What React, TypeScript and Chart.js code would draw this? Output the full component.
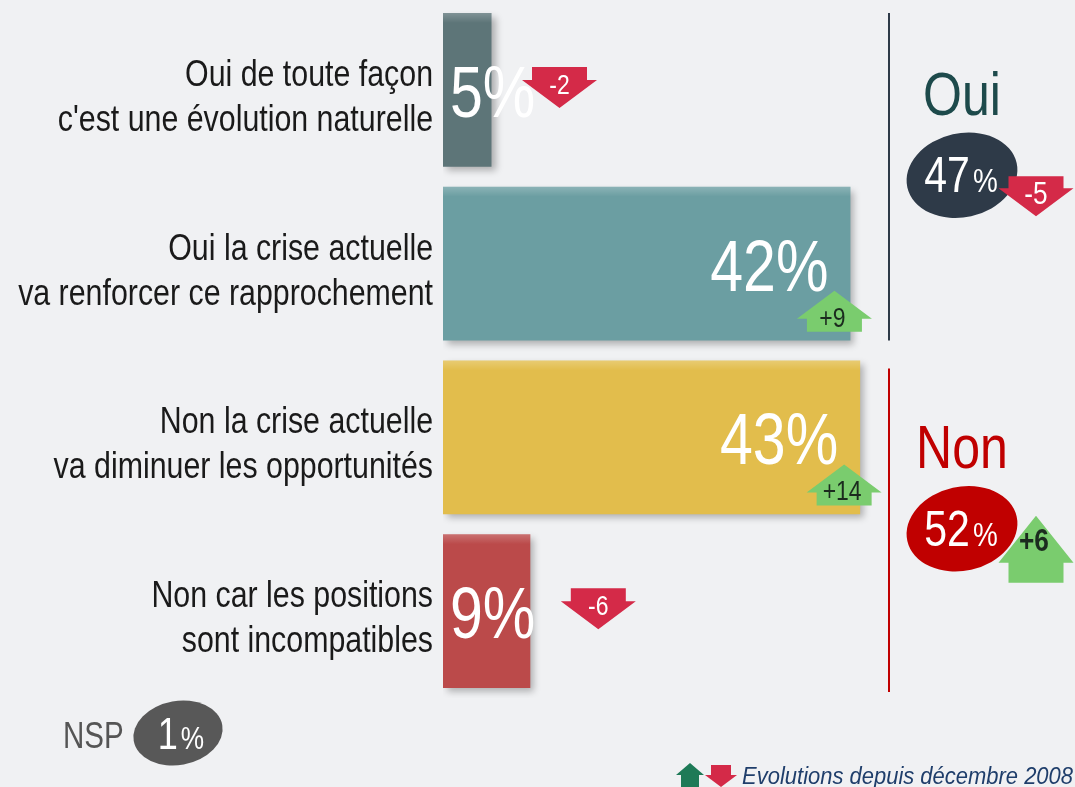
import React, { useEffect, useRef } from "react";
import { Chart, registerables } from "chart.js";

Chart.register(...registerables);

const categories: string[][] = [
  ["Oui de toute façon", "c'est une évolution naturelle"],
  ["Oui la crise actuelle", "va renforcer ce rapprochement"],
  ["Non la crise actuelle", "va diminuer les opportunités"],
  ["Non car les positions", "sont incompatibles"],
];
const values = [5, 42, 43, 9];
const evolutions = [-2, 9, 14, -6];
const barColors = ["#5d7578", "#6b9ea2", "#e2bd4c", "#bb4a4a"];

const groupLabels = ["Oui", "Non"];
const groupValues = [47, 52];
const groupEvolutions = [-5, 6];
const groupColors = ["#2e3a48", "#c00000"];
const groupLabelColors = ["#1d4a4b", "#c00000"];

const nspLabel = "NSP";
const nspValue = 1;
const footnote = "Evolutions depuis décembre 2008";

const FONT = "'Liberation Sans', Arial, sans-serif";
const NARROW = 0.82;
const UP = "#7acc6e";
const DOWN = "#d42a48";

function ntext(
  ctx: CanvasRenderingContext2D,
  text: string,
  x: number,
  y: number,
  font: string,
  color: string,
  align: CanvasTextAlign = "left",
  sx: number = NARROW
) {
  ctx.save();
  ctx.font = font;
  ctx.fillStyle = color;
  ctx.textAlign = align;
  ctx.textBaseline = "alphabetic";
  ctx.translate(x, y);
  ctx.scale(sx, 1);
  ctx.fillText(text, 0, 0);
  ctx.restore();
}

function nwidth(ctx: CanvasRenderingContext2D, text: string, font: string) {
  ctx.save();
  ctx.font = font;
  const w = ctx.measureText(text).width * NARROW;
  ctx.restore();
  return w;
}

function arrow(
  ctx: CanvasRenderingContext2D,
  cx: number,
  top: number,
  up: boolean,
  headH: number,
  shaftH: number,
  headHW: number,
  shaftHW: number,
  color: string
) {
  ctx.beginPath();
  if (up) {
    ctx.moveTo(cx, top);
    ctx.lineTo(cx + headHW, top + headH);
    ctx.lineTo(cx + shaftHW, top + headH);
    ctx.lineTo(cx + shaftHW, top + headH + shaftH);
    ctx.lineTo(cx - shaftHW, top + headH + shaftH);
    ctx.lineTo(cx - shaftHW, top + headH);
    ctx.lineTo(cx - headHW, top + headH);
  } else {
    ctx.moveTo(cx - shaftHW, top);
    ctx.lineTo(cx + shaftHW, top);
    ctx.lineTo(cx + shaftHW, top + shaftH);
    ctx.lineTo(cx + headHW, top + shaftH);
    ctx.lineTo(cx, top + shaftH + headH);
    ctx.lineTo(cx - headHW, top + shaftH);
    ctx.lineTo(cx - shaftHW, top + shaftH);
  }
  ctx.closePath();
  ctx.fillStyle = color;
  ctx.fill();
}

function fmtEvo(v: number) {
  return v > 0 ? "+" + v : String(v);
}

function pctText(
  ctx: CanvasRenderingContext2D,
  cx: number,
  baseline: number,
  num: string,
  numSize: number,
  pctSize: number,
  color: string
) {
  const f1 = `${numSize}px ${FONT}`;
  const f2 = `${pctSize}px ${FONT}`;
  const w1 = nwidth(ctx, num, f1);
  const w2 = nwidth(ctx, "%", f2);
  const x0 = cx - (w1 + w2 + 3) / 2;
  ntext(ctx, num, x0, baseline, f1, color, "left");
  ntext(ctx, "%", x0 + w1 + 3, baseline, f2, color, "left");
}

const bgPlugin = {
  id: "bg",
  beforeDraw(chart: any) {
    const ctx = chart.ctx;
    ctx.save();
    ctx.fillStyle = "#f0f1f3";
    ctx.fillRect(0, 0, chart.width, chart.height);
    ctx.restore();
  },
  beforeDatasetsDraw(chart: any) {
    const ctx = chart.ctx;
    ctx.save();
    ctx.shadowColor = "rgba(0,0,0,0.28)";
    ctx.shadowBlur = 7;
    ctx.shadowOffsetX = 4;
    ctx.shadowOffsetY = 4;
  },
  afterDatasetsDraw(chart: any) {
    chart.ctx.restore();
  },
};

const annotPlugin = {
  id: "annot",
  afterDraw(chart: any) {
    const ctx: CanvasRenderingContext2D = chart.ctx;
    const meta = chart.getDatasetMeta(0);
    const yScale = chart.scales.y;
    ctx.save();

    // category labels (narrow type) at the y axis tick positions
    const labelFont = `37px ${FONT}`;
    categories.forEach((lines, i) => {
      const ty = yScale.getPixelForTick(i);
      const right = yScale.right - 10;
      ntext(ctx, lines[0], right, ty - 4, labelFont, "#1a1a1a", "right");
      ntext(ctx, lines[1], right, ty + 41, labelFont, "#1a1a1a", "right");
    });

    // bar top highlight
    meta.data.forEach((el: any) => {
      const top = el.y - el.height / 2;
      const g = ctx.createLinearGradient(0, top, 0, top + 10);
      g.addColorStop(0, "rgba(255,255,255,0.22)");
      g.addColorStop(1, "rgba(255,255,255,0)");
      ctx.fillStyle = g;
      ctx.fillRect(el.base, top, el.x - el.base, 10);
    });

    // value labels and arrows
    meta.data.forEach((el: any, i: number) => {
      const v = values[i];
      const cy = el.y;
      const big = v >= 20;
      const vf = `72px ${FONT}`;
      if (big) {
        ntext(ctx, v + "%", el.x - 22, cy + 27, vf, "#ffffff", "right");
      } else {
        ntext(ctx, v + "%", el.base + 7, cy + 27, vf, "#ffffff", "left");
      }
      const e = evolutions[i];
      const up = e > 0;
      let cx: number, top: number;
      if (big) {
        cx = el.x - 16;
        top = cy + 68 - 41;
      } else {
        cx = el.x + 68;
        top = cy - 23;
      }
      arrow(ctx, cx, top, up, 28, 13, 37.5, 27.5, up ? UP : DOWN);
      if (up) {
        ntext(ctx, fmtEvo(e), cx - 2, top + 36, `28px ${FONT}`, "#1b2b1e", "center");
      } else {
        ntext(ctx, fmtEvo(e), cx, top + 27, `28px ${FONT}`, "#ffffff", "center");
      }
    });

    // group brackets
    const d = meta.data;
    const spans = [
      [d[0].y - d[0].height / 2, d[1].y + d[1].height / 2],
      [d[2].y - d[2].height / 2 + 8, d[3].y + d[3].height / 2 + 4],
    ];
    const lineX = 889;
    const gx = 962;
    spans.forEach((s, gi) => {
      ctx.strokeStyle = groupColors[gi];
      ctx.lineWidth = 2;
      ctx.beginPath();
      ctx.moveTo(lineX, s[0]);
      ctx.lineTo(lineX, s[1]);
      ctx.stroke();
      const mid = (s[0] + s[1]) / 2;
      ntext(ctx, groupLabels[gi], gx, mid - 62, `61px ${FONT}`, groupLabelColors[gi], "center");
      const ey = mid - 1.5;
      ctx.beginPath();
      ctx.ellipse(gx, ey, 56, 42, -0.22, 0, Math.PI * 2);
      ctx.fillStyle = groupColors[gi];
      ctx.fill();
      pctText(ctx, gx - 1, ey + 17, String(groupValues[gi]), 50, 34, "#ffffff");
      const ev = groupEvolutions[gi];
      const ax = 1036;
      if (ev > 0) {
        arrow(ctx, ax, ey - 13, true, 47, 20, 37.5, 27.5, UP);
        ntext(ctx, fmtEvo(ev), ax - 2, ey + 22, `bold 32px ${FONT}`, "#1b2b1e", "center");
      } else {
        arrow(ctx, ax, ey + 1, false, 28, 12, 37.5, 27.5, DOWN);
        ntext(ctx, fmtEvo(ev), ax, ey + 29, `32px ${FONT}`, "#ffffff", "center");
      }
    });

    // NSP
    ntext(ctx, nspLabel, 63, 748, `36px ${FONT}`, "#555555", "left");
    ctx.beginPath();
    ctx.ellipse(178, 733, 45, 32, -0.18, 0, Math.PI * 2);
    ctx.fillStyle = "#585858";
    ctx.fill();
    pctText(ctx, 181, 749, String(nspValue), 44, 32, "#ffffff");

    // footnote
    arrow(ctx, 690, 763, true, 12, 14, 14, 9, "#1e7a57");
    arrow(ctx, 721, 765, false, 12, 10, 16, 10, DOWN);
    ntext(ctx, footnote, 1073, 784, `italic 23px ${FONT}`, "#1f3e6b", "right", 0.955);
    ctx.restore();
  },
};

export default function App() {
  const ref = useRef<HTMLCanvasElement | null>(null);
  useEffect(() => {
    if (!ref.current) return;
    const chart = new Chart(ref.current, {
      type: "bar",
      data: {
        labels: categories.map((c) => c.join(" ")),
        datasets: [
          {
            data: values,
            backgroundColor: barColors,
            barPercentage: 0.886,
            categoryPercentage: 1,
            borderWidth: 0,
          },
        ],
      },
      options: {
        indexAxis: "y",
        responsive: false,
        animation: false,
        layout: { padding: { top: 3, bottom: 89, left: 0, right: 0 } },
        plugins: { legend: { display: false }, tooltip: { enabled: false } },
        scales: {
          x: { display: false, min: 0, max: 65.15 },
          y: {
            afterFit: (s: any) => {
              s.width = 443;
              s.paddingTop = 0;
              s.paddingBottom = 0;
            },
            border: { display: false },
            grid: { display: false, drawTicks: false },
            ticks: { display: false },
          },
        },
      },
      plugins: [bgPlugin, annotPlugin],
    } as any);
    return () => chart.destroy();
  }, []);
  return (
    <div style={{ position: "fixed", left: 0, top: 0, width: 1075, height: 787 }}>
      <canvas ref={ref} width={1075} height={787} style={{ width: 1075, height: 787 }} />
    </div>
  );
}
